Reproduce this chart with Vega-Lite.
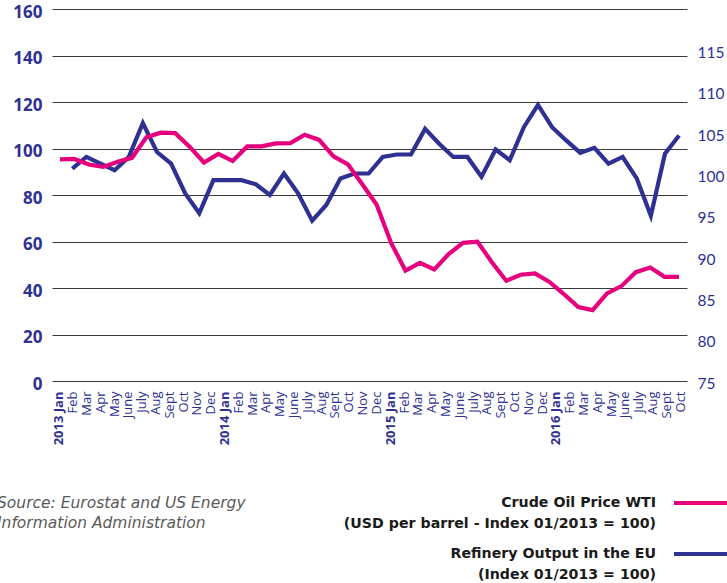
{
  "$schema": "https://vega.github.io/schema/vega-lite/v6.json",
  "autosize": {"type": "none"},
  "padding": {"left": 52, "top": 9, "right": 40, "bottom": 202},
  "width": 635,
  "height": 372,
  "background": "white",
  "config": {"view": {"stroke": null}},
  "title": {
    "text": ["Source: Eurostat and US Energy", "Information Administration"],
    "orient": "bottom", "anchor": "start", "frame": "group", "dx": -55, "offset": -87,
    "font": "DejaVu Sans", "fontSize": 15.5, "fontStyle": "italic", "fontWeight": "normal",
    "color": "#5a5a5a", "lineHeight": 20, "baseline": "top"
  },
  "datasets": {
    "months": [
      {"month": "2013-01"}, {"month": "2013-02"}, {"month": "2013-03"}, {"month": "2013-04"}, {"month": "2013-05"}, {"month": "2013-06"},
      {"month": "2013-07"}, {"month": "2013-08"}, {"month": "2013-09"}, {"month": "2013-10"}, {"month": "2013-11"}, {"month": "2013-12"},
      {"month": "2014-01"}, {"month": "2014-02"}, {"month": "2014-03"}, {"month": "2014-04"}, {"month": "2014-05"}, {"month": "2014-06"},
      {"month": "2014-07"}, {"month": "2014-08"}, {"month": "2014-09"}, {"month": "2014-10"}, {"month": "2014-11"}, {"month": "2014-12"},
      {"month": "2015-01"}, {"month": "2015-02"}, {"month": "2015-03"}, {"month": "2015-04"}, {"month": "2015-05"}, {"month": "2015-06"},
      {"month": "2015-07"}, {"month": "2015-08"}, {"month": "2015-09"}, {"month": "2015-10"}, {"month": "2015-11"}, {"month": "2015-12"},
      {"month": "2016-01"}, {"month": "2016-02"}, {"month": "2016-03"}, {"month": "2016-04"}, {"month": "2016-05"}, {"month": "2016-06"},
      {"month": "2016-07"}, {"month": "2016-08"}, {"month": "2016-09"}, {"month": "2016-10"}
    ],
    "oil": [
      {"month": "2013-01", "value": 95.3}, {"month": "2013-02", "value": 95.5}, {"month": "2013-03", "value": 93.1}, {"month": "2013-04", "value": 92.1},
      {"month": "2013-05", "value": 94.3}, {"month": "2013-06", "value": 96.0}, {"month": "2013-07", "value": 104.8}, {"month": "2013-08", "value": 106.8},
      {"month": "2013-09", "value": 106.6}, {"month": "2013-10", "value": 100.8}, {"month": "2013-11", "value": 94.0}, {"month": "2013-12", "value": 97.7},
      {"month": "2014-01", "value": 94.6}, {"month": "2014-02", "value": 100.9}, {"month": "2014-03", "value": 100.9}, {"month": "2014-04", "value": 102.2},
      {"month": "2014-05", "value": 102.3}, {"month": "2014-06", "value": 105.9}, {"month": "2014-07", "value": 103.7}, {"month": "2014-08", "value": 96.6},
      {"month": "2014-09", "value": 93.2}, {"month": "2014-10", "value": 84.6}, {"month": "2014-11", "value": 75.8}, {"month": "2014-12", "value": 59.4},
      {"month": "2015-01", "value": 47.5}, {"month": "2015-02", "value": 50.8}, {"month": "2015-03", "value": 48.0}, {"month": "2015-04", "value": 54.6},
      {"month": "2015-05", "value": 59.4}, {"month": "2015-06", "value": 59.9}, {"month": "2015-07", "value": 51.1}, {"month": "2015-08", "value": 43.1},
      {"month": "2015-09", "value": 45.7}, {"month": "2015-10", "value": 46.3}, {"month": "2015-11", "value": 42.6}, {"month": "2015-12", "value": 37.4},
      {"month": "2016-01", "value": 31.8}, {"month": "2016-02", "value": 30.5}, {"month": "2016-03", "value": 37.7}, {"month": "2016-04", "value": 40.8},
      {"month": "2016-05", "value": 46.8}, {"month": "2016-06", "value": 48.8}, {"month": "2016-07", "value": 44.8}, {"month": "2016-08", "value": 44.8}
    ],
    "refinery": [
      {"month": "2013-02", "value": 100.7}, {"month": "2013-03", "value": 102.1}, {"month": "2013-04", "value": 101.3}, {"month": "2013-05", "value": 100.5},
      {"month": "2013-06", "value": 102.1}, {"month": "2013-07", "value": 106.2}, {"month": "2013-08", "value": 102.7}, {"month": "2013-09", "value": 101.3},
      {"month": "2013-10", "value": 97.7}, {"month": "2013-11", "value": 95.3}, {"month": "2013-12", "value": 99.3}, {"month": "2014-01", "value": 99.3},
      {"month": "2014-02", "value": 99.3}, {"month": "2014-03", "value": 98.8}, {"month": "2014-04", "value": 97.5}, {"month": "2014-05", "value": 100.1},
      {"month": "2014-06", "value": 97.7}, {"month": "2014-07", "value": 94.4}, {"month": "2014-08", "value": 96.3}, {"month": "2014-09", "value": 99.5},
      {"month": "2014-10", "value": 100.1}, {"month": "2014-11", "value": 100.1}, {"month": "2014-12", "value": 102.1}, {"month": "2015-01", "value": 102.4},
      {"month": "2015-02", "value": 102.4}, {"month": "2015-03", "value": 105.5}, {"month": "2015-04", "value": 103.7}, {"month": "2015-05", "value": 102.1},
      {"month": "2015-06", "value": 102.1}, {"month": "2015-07", "value": 99.7}, {"month": "2015-08", "value": 103.0}, {"month": "2015-09", "value": 101.7},
      {"month": "2015-10", "value": 105.7}, {"month": "2015-11", "value": 108.4}, {"month": "2015-12", "value": 105.7}, {"month": "2016-01", "value": 104.1},
      {"month": "2016-02", "value": 102.6}, {"month": "2016-03", "value": 103.2}, {"month": "2016-04", "value": 101.3}, {"month": "2016-05", "value": 102.1},
      {"month": "2016-06", "value": 99.5}, {"month": "2016-07", "value": 95.0}, {"month": "2016-08", "value": 102.5}, {"month": "2016-09", "value": 104.7}
    ]
  },
  "layer": [
    {
      "data": {"name": "months"},
      "mark": {"type": "point", "opacity": 0},
      "encoding": {
        "x": {
          "field": "month", "type": "ordinal",
          "scale": {"type": "point", "padding": 0.5},
          "axis": {
            "orient": "bottom", "title": null, "domain": false, "ticks": false, "grid": false,
            "labelAngle": 270, "labelAlign": "right", "labelBaseline": "middle", "labelPadding": 10,
            "labelOverlap": false, "labelBound": false, "labelLimit": 0,
            "labelFont": "Open Sans", "labelFontSize": 13, "labelColor": "#2e3192",
            "labelFontWeight": {"condition": {"test": "substring(datum.value,5,7)=='01'", "value": "bold"}, "value": "normal"},
            "labelExpr": "substring(datum.value,5,7)=='01' ? substring(datum.value,0,4)+' Jan' : ['','Jan','Feb','Mar','Apr','May','June','July','Aug','Sept','Oct','Nov','Dec'][toNumber(substring(datum.value,5,7))]"
          }
        }
      }
    },
    {
      "data": {"name": "refinery"},
      "mark": {"type": "line", "strokeWidth": 4.2},
      "encoding": {
        "x": {"field": "month", "type": "ordinal", "scale": {"type": "point", "padding": 1.074, "align": 0.719}, "axis": null},
        "y": {
          "field": "value", "type": "quantitative",
          "scale": {"domain": [75, 120], "nice": false, "zero": false},
          "axis": {
            "orient": "right", "title": null, "values": [75, 80, 85, 90, 95, 100, 105, 110, 115],
            "grid": false, "domain": false, "ticks": false, "labelPadding": 10, "labelOffset": 2,
            "labelFont": "Lato", "labelFontSize": 15.5, "labelColor": "#2e3192"
          }
        },
        "color": {
          "datum": "Refinery Output in the EU",
          "scale": {"domain": ["Crude Oil Price WTI", "Refinery Output in the EU"], "range": ["#e6007e", "#2e3192"]},
          "legend": {
            "orient": "none", "legendX": 620, "legendY": 472, "direction": "vertical", "title": null,
            "padding": 0, "symbolType": "M-1,0H1.75", "symbolSize": 1600, "symbolStrokeWidth": 4,
            "labelFont": "DejaVu Sans", "labelFontSize": 14.2, "labelFontWeight": "bold", "labelColor": "#1a1a1a",
            "labelAlign": "right", "labelOffset": -60, "labelLimit": 0, "rowPadding": 0,
            "labelExpr": "datum.label == 'Crude Oil Price WTI' ? ['Crude Oil Price WTI', '(USD per barrel - Index 01/2013 = 100)'] : ['Refinery Output in the EU', '(Index 01/2013 = 100)']",
            "encode": {"labels": {"update": {"lineHeight": {"value": 21}}}}
          }
        }
      }
    },
    {
      "data": {"name": "oil"},
      "mark": {"type": "line", "strokeWidth": 4.2},
      "encoding": {
        "x": {"field": "month", "type": "ordinal", "scale": {"type": "point", "padding": 0.556}, "axis": null},
        "y": {
          "field": "value", "type": "quantitative",
          "scale": {"domain": [0, 160], "nice": false},
          "axis": {
            "orient": "left", "title": null, "values": [0, 20, 40, 60, 80, 100, 120, 140, 160],
            "grid": true, "gridColor": "#3a3a3a", "gridWidth": 1, "domain": false, "ticks": false,
            "labelPadding": 10, "labelOffset": 3, "labelFont": "Open Sans", "labelFontSize": 17, "labelFontWeight": "bold", "labelColor": "#2e3192"
          }
        },
        "color": {
          "datum": "Crude Oil Price WTI",
          "scale": {"domain": ["Crude Oil Price WTI", "Refinery Output in the EU"], "range": ["#e6007e", "#2e3192"]},
          "legend": {
            "orient": "none", "legendX": 620, "legendY": 472, "direction": "vertical", "title": null,
            "padding": 0, "symbolType": "M-1,0H1.75", "symbolSize": 1600, "symbolStrokeWidth": 4,
            "labelFont": "DejaVu Sans", "labelFontSize": 14.2, "labelFontWeight": "bold", "labelColor": "#1a1a1a",
            "labelAlign": "right", "labelOffset": -60, "labelLimit": 0, "rowPadding": 0,
            "labelExpr": "datum.label == 'Crude Oil Price WTI' ? ['Crude Oil Price WTI', '(USD per barrel - Index 01/2013 = 100)'] : ['Refinery Output in the EU', '(Index 01/2013 = 100)']",
            "encode": {"labels": {"update": {"lineHeight": {"value": 21}}}}
          }
        }
      }
    }
  ],
  "resolve": {"scale": {"x": "independent", "y": "independent"}}
}
